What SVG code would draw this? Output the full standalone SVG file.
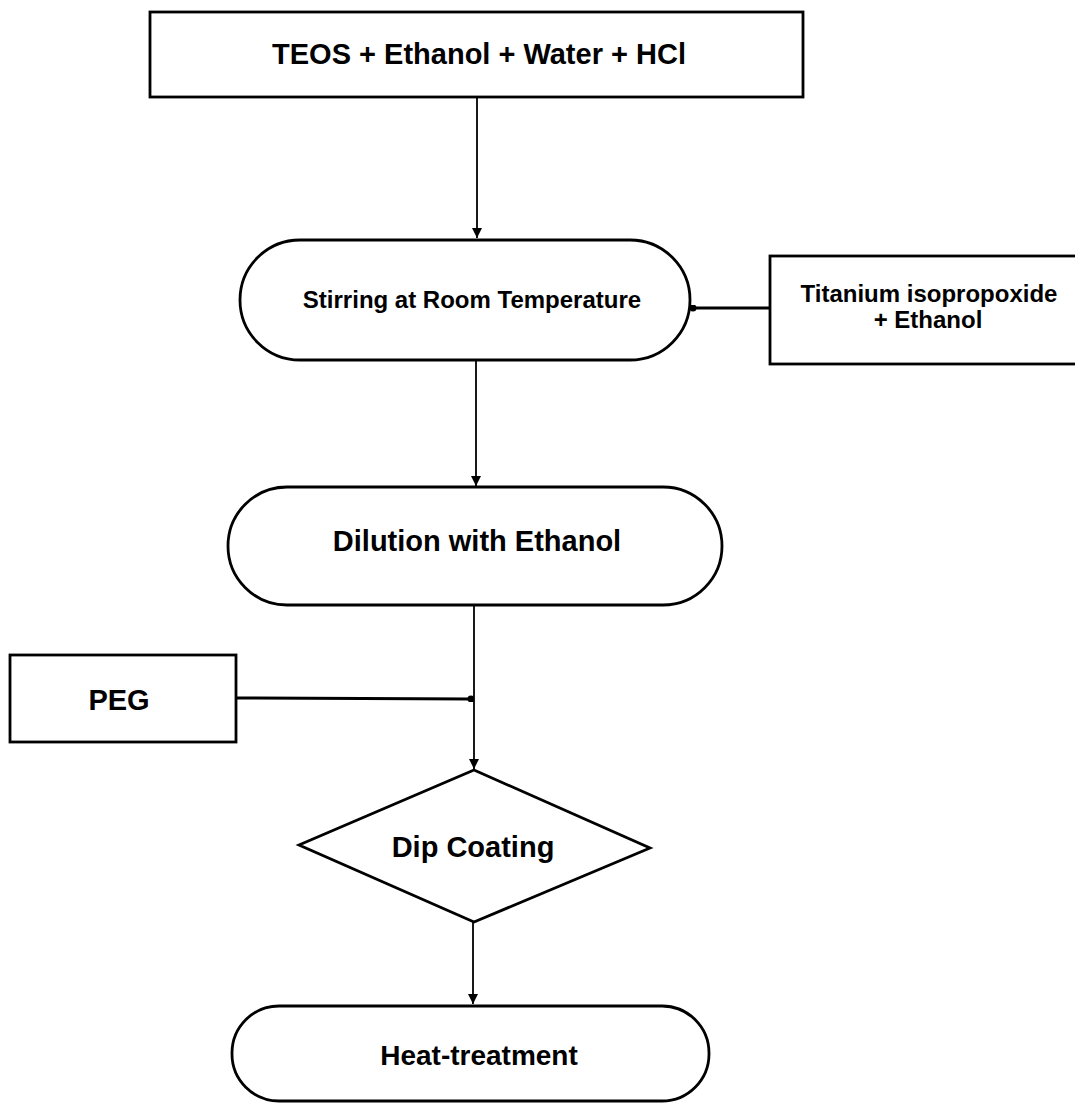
<svg xmlns="http://www.w3.org/2000/svg" width="1075" height="1108" viewBox="0 0 1075 1108">
<style>
.shape{fill:#fff;stroke:#000;stroke-width:2.8}
.conn{fill:none;stroke:#000;stroke-width:1.8}
.thick{fill:none;stroke:#000;stroke-width:3}
text{font-family:"Liberation Sans",Arial,sans-serif;font-weight:bold;fill:#000;text-anchor:middle}
</style>
<defs>
<marker id="arr" viewBox="0 0 10 10" refX="10" refY="5" markerWidth="10" markerHeight="10" markerUnits="userSpaceOnUse" orient="auto">
<path d="M0,0 L10,5 L0,10 Z" fill="#000"/>
</marker>
<marker id="dot" viewBox="0 0 10 10" refX="5" refY="5" markerWidth="7" markerHeight="7" markerUnits="userSpaceOnUse" orient="auto">
<circle cx="5" cy="5" r="5" fill="#000"/>
</marker>
</defs>
<g id="connectors">
<line class="conn" x1="477" y1="97" x2="477" y2="238" marker-end="url(#arr)"/>
<line class="thick" x1="770" y1="308" x2="693" y2="308" marker-end="url(#dot)"/>
<line class="conn" x1="476" y1="360" x2="476" y2="486" marker-end="url(#arr)"/>
<line class="conn" x1="474" y1="605" x2="474" y2="769" marker-end="url(#arr)"/>
<line class="thick" x1="236" y1="698" x2="471" y2="699" marker-end="url(#dot)"/>
<line class="conn" x1="473" y1="922" x2="473" y2="1004" marker-end="url(#arr)"/>
</g>
<g id="n1">
<rect class="shape" x="150" y="12" width="653" height="85"/>
<text x="479" y="64" font-size="29">TEOS + Ethanol + Water + HCl</text>
</g>
<g id="n2">
<rect class="shape" x="240" y="240" width="450" height="120" rx="60" ry="60"/>
<text x="472" y="308" font-size="24">Stirring at Room Temperature</text>
</g>
<g id="n3">
<rect class="shape" x="770" y="256" width="310" height="108"/>
<text x="929" y="302" font-size="24">Titanium isopropoxide</text>
<text x="928" y="328" font-size="24">+ Ethanol</text>
</g>
<g id="n4">
<rect class="shape" x="228" y="487" width="494" height="118" rx="59" ry="59"/>
<text x="477" y="551" font-size="29">Dilution with Ethanol</text>
</g>
<g id="n5">
<rect class="shape" x="10" y="655" width="226" height="87"/>
<text x="119" y="710" font-size="29">PEG</text>
</g>
<g id="n6">
<polygon class="shape" points="474,770 650,848 474,922 299,845"/>
<text x="473" y="857" font-size="29">Dip Coating</text>
</g>
<g id="n7">
<rect class="shape" x="232" y="1006" width="477" height="95" rx="47" ry="47"/>
<text x="479" y="1065" font-size="28">Heat-treatment</text>
</g>
</svg>
